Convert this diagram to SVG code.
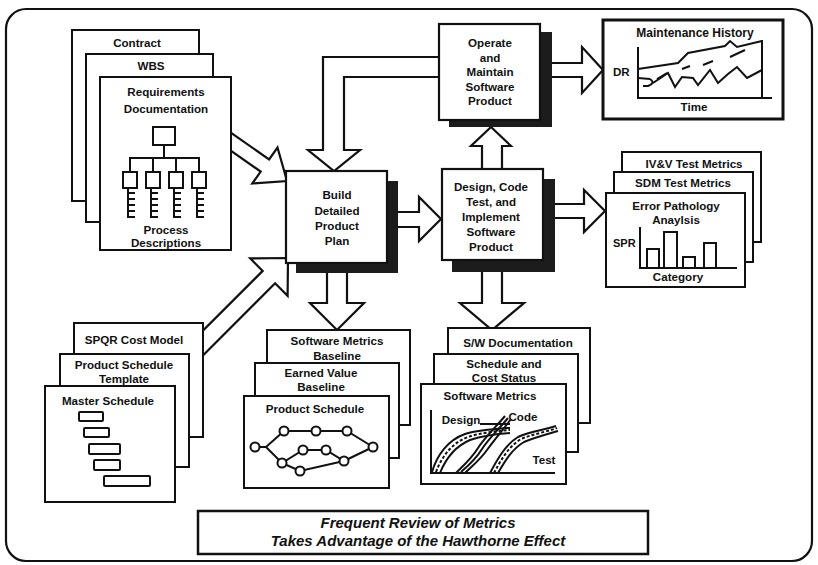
<svg xmlns="http://www.w3.org/2000/svg" width="818" height="565" viewBox="0 0 818 565">
  <style>
    .pg { fill: #fff; stroke: #111; stroke-width: 2; }
    .bx { fill: #fff; stroke: #111; stroke-width: 2.2; }
    .sh { fill: #1c1c1c; }
    .ar { fill: #fff; stroke: #111; stroke-width: 2.2; stroke-linejoin: miter; }
    .ln { fill: none; stroke: #111; stroke-width: 2; }
    .t { font-family: "Liberation Sans", Arial, Helvetica, sans-serif; font-weight: bold; font-size: 11.6px; fill: #111; text-anchor: middle; }
    .s { text-anchor: start; }
    .bn { font-family: "Liberation Sans", Arial, Helvetica, sans-serif; font-weight: bold; font-style: italic; font-size: 15px; fill: #111; text-anchor: middle; }
  </style>

  <rect width="818" height="565" fill="#fff"/>
  <!-- outer frame -->
  <rect x="6" y="9" width="806" height="552" rx="20" fill="none" stroke="#111" stroke-width="2.2"/>

  <!-- hollow block arrows -->
  <g id="connectors">
    <!-- requirements -> build plan -->
    <polygon class="ar" points="210.8,136.7 260.7,171.6 252.3,183.5 287,181 277.5,147.5 269.1,159.4 219.2,124.5"/>
    <!-- cost model -> build plan -->
    <polygon class="ar" points="191.2,367.2 275.1,283.3 287.6,295.8 288,258 250.2,258.4 262.7,270.9 178.8,354.8"/>
    <!-- operate -> build plan (feedback) -->
    <polygon class="ar" points="445,57 323,57 323,150 308,150 334,171 360,150 344,150 344,77 445,77"/>
    <!-- build plan -> design -->
    <polygon class="ar" points="392,212 419,212 419,197 441,219 419,241 419,227 392,227"/>
    <!-- design -> operate -->
    <polygon class="ar" points="482,175 482,146 471,146 491,127 511,146 502,146 502,175"/>
    <!-- operate -> maintenance history -->
    <polygon class="ar" points="548,63 582,63 582,47 603,70 582,93 582,77 548,77"/>
    <!-- design -> test metrics -->
    <polygon class="ar" points="550,204 584,204 584,190 605,211 584,232 584,218 550,218"/>
    <!-- build plan -> baselines -->
    <polygon class="ar" points="327,268 327,303 310,303 337,330 364,303 347,303 347,268"/>
    <!-- design -> documentation -->
    <polygon class="ar" points="482,266 482,303 460,303 492,330 524,303 502,303 502,266"/>
  </g>

  <!-- input document stack: contract / WBS / requirements -->
  <g id="contract">
    <rect class="pg" x="72" y="30" width="127" height="171"/>
    <text class="t" x="137" y="47">Contract</text>
  </g>
  <g id="wbs">
    <rect class="pg" x="86" y="54" width="127" height="168"/>
    <text class="t" x="151" y="70">WBS</text>
  </g>
  <g id="requirements">
    <rect class="pg" x="100" y="77" width="131" height="173"/>
    <text class="t" x="166" y="96">Requirements</text>
    <text class="t" x="166" y="113">Documentation</text>
    <!-- process tree -->
    <rect class="ln" x="153" y="127" width="22" height="18"/>
    <path class="ln" d="M164,145 V158 M129,158 H200 M130,158 V172 M153,158 V172 M176,158 V172 M199,158 V172"/>
    <rect class="ln" x="123" y="172" width="14" height="16"/>
    <rect class="ln" x="146" y="172" width="14" height="16"/>
    <rect class="ln" x="169" y="172" width="14" height="16"/>
    <rect class="ln" x="192" y="172" width="14" height="16"/>
    <path class="ln" d="M128,188 V218 M128,193 H135 M128,199 H135 M128,205 H135 M128,211 H135 M128,217 H135"/>
    <path class="ln" d="M151,188 V218 M151,193 H158 M151,199 H158 M151,205 H158 M151,211 H158 M151,217 H158"/>
    <path class="ln" d="M174,188 V218 M174,193 H181 M174,199 H181 M174,205 H181 M174,211 H181 M174,217 H181"/>
    <path class="ln" d="M197,188 V218 M197,193 H204 M197,199 H204 M197,205 H204 M197,211 H204 M197,217 H204"/>
    <text class="t" x="166" y="234">Process</text>
    <text class="t" x="166" y="247">Descriptions</text>
  </g>

  <!-- process boxes -->
  <g id="operate">
    <rect class="sh" x="449" y="32" width="103" height="95"/>
    <rect class="bx" x="439" y="24" width="101" height="96"/>
    <text class="t" x="490" y="47">Operate</text>
    <text class="t" x="490" y="61.5">and</text>
    <text class="t" x="490" y="76">Maintain</text>
    <text class="t" x="490" y="90.5">Software</text>
    <text class="t" x="490" y="105">Product</text>
  </g>
  <g id="build">
    <rect class="sh" x="296" y="181" width="102" height="92"/>
    <rect class="bx" x="286" y="171" width="101" height="92"/>
    <text class="t" x="337" y="199">Build</text>
    <text class="t" x="337" y="215">Detailed</text>
    <text class="t" x="337" y="230">Product</text>
    <text class="t" x="337" y="245">Plan</text>
  </g>
  <g id="design">
    <rect class="sh" x="452" y="179" width="103" height="93"/>
    <rect class="bx" x="442" y="169" width="101" height="91"/>
    <text class="t" x="491" y="191">Design, Code</text>
    <text class="t" x="491" y="206">Test, and</text>
    <text class="t" x="491" y="221">Implement</text>
    <text class="t" x="491" y="236">Software</text>
    <text class="t" x="491" y="251">Product</text>
  </g>

  <!-- maintenance history chart -->
  <g id="maintenance">
    <rect x="603" y="20" width="180" height="99" fill="#fff" stroke="#111" stroke-width="3"/>
    <text class="t" x="695" y="37" style="font-size:12px">Maintenance History</text>
    <text class="t s" x="613" y="76">DR</text>
    <text class="t" x="694" y="111">Time</text>
    <path class="ln" d="M638,47 V98 H772 M762,40 V98"/>
    <polyline class="ln" points="638,69 678,63 688,53 725,46 730,41 737,47 762,41"/>
    <path class="ln" stroke-width="3" d="M657,79 L667,73 M682,69 L690,66 M703,65 L713,61 M730,57 L745,50"/>
    <polyline class="ln" points="638,78 650,79"/>
    <path class="ln" d="M650,79 Q656,83 648,86 H643"/>
    <polyline class="ln" points="653,83 668,73 675,87 682,77 693,78 698,85 710,70 718,83 728,74 737,67 747,78 762,70"/>
  </g>

  <!-- test metrics stack -->
  <g id="ivv-metrics">
    <rect class="pg" x="622" y="152" width="139" height="90"/>
    <text class="t" x="694" y="168">IV&amp;V Test Metrics</text>
  </g>
  <g id="sdm-metrics">
    <rect class="pg" x="614" y="172" width="139" height="90"/>
    <text class="t" x="683" y="187">SDM Test Metrics</text>
  </g>
  <g id="error-pathology">
    <rect class="pg" x="606" y="193" width="139" height="94"/>
    <text class="t" x="676" y="210">Error Pathology</text>
    <text class="t" x="676" y="224">Anaylsis</text>
    <text class="t s" x="613" y="247" style="font-size:11px">SPR</text>
    <path class="ln" d="M640,227 V268 H737"/>
    <rect class="ln" x="647" y="249" width="12" height="19"/>
    <rect class="ln" x="664" y="232" width="13" height="36"/>
    <rect class="ln" x="683" y="257" width="12" height="11"/>
    <rect class="ln" x="704" y="243" width="12" height="25"/>
    <text class="t" x="678" y="281">Category</text>
  </g>

  <!-- planning inputs stack -->
  <g id="spqr">
    <rect class="pg" x="74" y="323" width="129" height="114"/>
    <text class="t" x="134" y="344">SPQR Cost Model</text>
  </g>
  <g id="schedule-template">
    <rect class="pg" x="60" y="354" width="129" height="113"/>
    <text class="t" x="124" y="369">Product Schedule</text>
    <text class="t" x="124" y="383">Template</text>
  </g>
  <g id="master-schedule">
    <rect class="pg" x="45" y="386" width="130" height="116"/>
    <text class="t" x="108" y="405">Master Schedule</text>
    <rect class="ln" x="79" y="412" width="24" height="9" rx="1"/>
    <rect class="ln" x="84" y="428" width="25" height="9" rx="1"/>
    <rect class="ln" x="89" y="444" width="31" height="10" rx="1"/>
    <rect class="ln" x="94" y="460" width="26" height="10" rx="1"/>
    <rect class="ln" x="104" y="476" width="46" height="10" rx="1"/>
  </g>

  <!-- baseline outputs stack -->
  <g id="metrics-baseline">
    <rect class="pg" x="267" y="330" width="143" height="95"/>
    <text class="t" x="337" y="345">Software Metrics</text>
    <text class="t" x="337" y="360">Baseline</text>
  </g>
  <g id="earned-value">
    <rect class="pg" x="255" y="363" width="144" height="95"/>
    <text class="t" x="321" y="377">Earned Value</text>
    <text class="t" x="321" y="391">Baseline</text>
  </g>
  <g id="product-schedule">
    <rect class="pg" x="244" y="396" width="145" height="92"/>
    <text class="t" x="315" y="413">Product Schedule</text>
    <path class="ln" d="M255,447 H266 L284,431 H347 L373,447 M266,447 L282,463 L303,450 H326 L344,461 L373,447 M282,463 L300,471 L344,461"/>
    <g fill="#fff" stroke="#111" stroke-width="2">
      <circle cx="255" cy="447" r="4.5"/>
      <circle cx="284" cy="431" r="4.5"/>
      <circle cx="316" cy="431" r="4.5"/>
      <circle cx="347" cy="431" r="4.5"/>
      <circle cx="373" cy="447" r="4.5"/>
      <circle cx="303" cy="450" r="4.5"/>
      <circle cx="326" cy="450" r="4.5"/>
      <circle cx="344" cy="461" r="4.5"/>
      <circle cx="282" cy="463" r="4.5"/>
      <circle cx="300" cy="471" r="4.5"/>
    </g>
  </g>

  <!-- development outputs stack -->
  <g id="sw-documentation">
    <rect class="pg" x="448" y="328" width="142" height="95"/>
    <text class="t" x="518" y="347">S/W Documentation</text>
  </g>
  <g id="schedule-cost">
    <rect class="pg" x="434" y="354" width="144" height="98"/>
    <text class="t" x="504" y="368">Schedule and</text>
    <text class="t" x="504" y="382">Cost Status</text>
  </g>
  <g id="software-metrics">
    <rect class="pg" x="421" y="384" width="145" height="100"/>
    <text class="t" x="490" y="400">Software Metrics</text>
    <text class="t" x="461" y="424">Design</text>
    <text class="t" x="523" y="421">Code</text>
    <text class="t" x="544" y="464">Test</text>
    <path class="ln" d="M431,410 V473 H555"/>
    <!-- design band -->
    <path class="ln" d="M432,472 C437,455 448,440 465,434 C478,430 495,429 510,428"/>
    <path class="ln" d="M440,473 C446,458 456,446 470,440 C482,436 496,434 510,433"/>
    <path class="ln" stroke-width="1.2" stroke-dasharray="3,2" d="M436,472 C442,456 452,443 468,437 C480,433 496,431 510,430"/>
    <path class="ln" d="M480,424 H510"/>
    <!-- code band -->
    <path class="ln" d="M456,473 C464,465 472,458 478,448 C485,437 495,428 505,416"/>
    <path class="ln" d="M465,473 C472,466 480,460 487,450 C494,440 503,430 511,419"/>
    <path class="ln" stroke-width="3" d="M461,472 C468,466 476,459 482,449 C489,438 499,429 508,418"/>
    <!-- test band -->
    <path class="ln" d="M490,473 C497,460 505,445 518,437 C530,431 545,430 556,426"/>
    <path class="ln" d="M498,473 C505,461 512,449 524,442 C536,437 548,434 558,431"/>
    <path class="ln" stroke-width="1.2" stroke-dasharray="3,2" d="M494,473 C501,460 508,447 521,439 C533,434 546,432 557,428"/>
  </g>

  <!-- closing banner -->
  <g id="banner">
    <rect x="198" y="511" width="450" height="43" fill="#fff" stroke="#111" stroke-width="2.5"/>
    <text class="bn" x="418" y="528">Frequent Review of Metrics</text>
    <text class="bn" x="418" y="546">Takes Advantage of the Hawthorne Effect</text>
  </g>
</svg>
